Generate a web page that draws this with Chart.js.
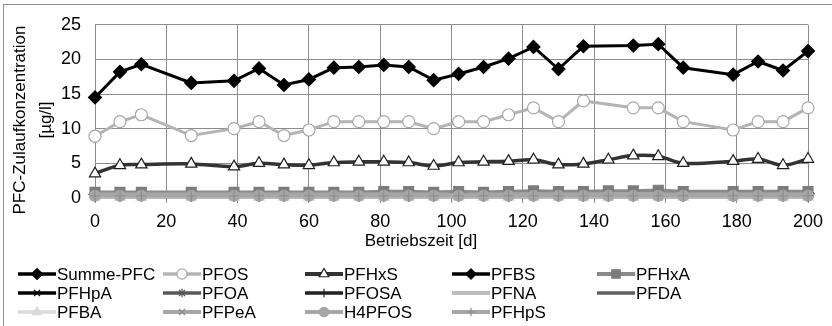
<!DOCTYPE html>
<html>
<head>
<meta charset="utf-8">
<script src="https://cdn.jsdelivr.net/npm/chart.js@4.4.1/dist/chart.umd.min.js"></script>
<style>
  html, body { margin: 0; padding: 0; background: #fff; }
  canvas { display: block; }
</style>
</head>
<body>
<canvas id="pfcChart" width="832" height="326"></canvas>
<script>
// Betriebszeit [d]
const days = [0, 7, 13, 27, 39, 46, 53, 60, 67, 74, 81, 88, 95, 102, 109, 116, 123, 130, 137, 144, 151, 158, 165, 179, 186, 193, 200];

// concentrations in µg/l (null = no measurement)
const summePFC = [14.5, 18.2, 19.3, 16.6, 16.9, 18.7, 16.3, 17.1, 18.8, 18.9, 19.2, 18.9, 17.0, 17.9, 18.9, 20.1, 21.8, 18.6, 21.9, null, 22.0, 22.2, 18.8, 17.8, 19.7, 18.4, 21.2];
const pfos     = [8.9, 11.0, 12.0, 9.0, 10.0, 11.0, 9.0, 9.8, 11.0, 11.0, 11.0, 11.0, 10.0, 11.0, 11.0, 12.0, 13.0, 11.0, 14.0, null, 13.0, 13.0, 11.0, 9.8, 11.0, 11.0, 13.0];
const pfhxs    = [3.5, 4.7, 4.8, 4.9, 4.5, 5.0, 4.8, 4.7, 5.1, 5.2, 5.2, 5.1, 4.6, 5.1, 5.2, 5.3, 5.5, 4.8, 4.9, 5.5, 6.1, 6.0, 5.0, 5.3, 5.6, 4.7, 5.6];
const pfbs     = [0.5, 0.5, 0.5, 0.5, 0.5, 0.5, 0.5, 0.5, 0.5, 0.6, 0.6, 0.6, 0.5, 0.5, 0.5, 0.6, 0.6, 0.6, 0.6, 0.7, 0.7, 0.7, 0.6, 0.6, 0.6, 0.6, 0.6];
const pfhxa    = [0.8, 0.8, 0.8, 0.8, 0.8, 0.8, 0.8, 0.8, 0.8, 0.8, 0.9, 0.9, 0.8, 0.9, 0.8, 0.9, 1.0, 0.9, 0.9, 1.0, 1.0, 1.1, 0.9, 0.9, 0.9, 0.9, 0.9];
const pfhpa    = [0.2, 0.2, 0.2, 0.2, 0.2, 0.2, 0.2, 0.2, 0.2, 0.2, 0.2, 0.2, 0.2, 0.2, 0.2, 0.2, 0.2, 0.2, 0.2, 0.2, 0.2, 0.2, 0.2, 0.2, 0.2, 0.2, 0.2];
const pfoa     = [0.4, 0.4, 0.4, 0.4, 0.4, 0.4, 0.4, 0.4, 0.4, 0.4, 0.4, 0.4, 0.4, 0.4, 0.4, 0.4, 0.5, 0.4, 0.4, 0.4, 0.4, 0.5, 0.4, 0.4, 0.4, 0.4, 0.4];
const pfosa    = [0.1, 0.1, 0.1, 0.1, 0.1, 0.1, 0.1, 0.1, 0.1, 0.1, 0.1, 0.1, 0.1, 0.1, 0.1, 0.1, 0.1, 0.1, 0.1, 0.1, 0.1, 0.1, 0.1, 0.1, 0.1, 0.1, 0.1];
const pfna     = [0.2, 0.2, 0.2, 0.2, 0.2, 0.2, 0.2, 0.2, 0.2, 0.2, 0.2, 0.2, 0.2, 0.2, 0.2, 0.2, 0.2, 0.2, 0.2, 0.2, 0.2, 0.2, 0.2, 0.2, 0.2, 0.2, 0.2];
const pfda     = [0.3, 0.3, 0.3, 0.3, 0.3, 0.3, 0.3, 0.3, 0.3, 0.3, 0.3, 0.3, 0.3, 0.7, 0.3, 0.3, 0.3, 0.3, 0.3, 0.3, 0.3, 0.3, 0.3, 0.3, 0.3, 0.3, 0.3];
const pfba     = [0.1, 0.1, 0.1, 0.1, 0.1, 0.1, 0.1, 0.1, 0.1, 0.1, 0.1, 0.1, 0.1, 0.1, 0.1, 0.1, 0.1, 0.1, 0.1, 0.1, 0.1, 0.1, 0.1, 0.1, 0.1, 0.1, 0.1];
const pfpea    = [0.5, 0.5, 0.5, 0.5, 0.5, 0.5, 0.5, 0.5, 0.5, 0.5, 0.5, 0.5, 0.5, 0.5, 0.5, 0.5, 0.6, 0.5, 0.5, 0.6, 0.6, 0.6, 0.5, 0.5, 0.5, 0.5, 0.5];
const h4pfos   = [0.3, 0.3, 0.3, 0.3, 0.3, 0.3, 0.3, 0.3, 0.3, 0.3, 0.3, 0.3, 0.3, 0.3, 0.3, 0.3, 0.3, 0.3, 0.3, 0.3, 0.3, 0.3, 0.3, 0.3, 0.3, 0.3, 0.3];
const pfhps    = [0.3, 0.3, 0.3, 0.3, 0.3, 0.3, 0.3, 0.3, 0.3, 0.3, 0.3, 0.3, 0.3, 0.3, 0.3, 0.3, 0.3, 0.3, 0.3, 0.3, 0.3, 0.3, 0.3, 0.3, 0.3, 0.3, 0.3];

const seriesNames = ['Summe-PFC', 'PFOS', 'PFHxS', 'PFBS', 'PFHxA', 'PFHpA', 'PFOA', 'PFOSA', 'PFNA', 'PFDA', 'PFBA', 'PFPeA', 'H4PFOS', 'PFHpS'];
const seriesValues = [summePFC, pfos, pfhxs, pfbs, pfhxa, pfhpa, pfoa, pfosa, pfna, pfda, pfba, pfpea, h4pfos, pfhps];

const xTicks = [0, 20, 40, 60, 80, 100, 120, 140, 160, 180, 200];
const yTicks = [0, 5, 10, 15, 20, 25];

const xTitle = 'Betriebszeit [d]';
const yTitle = ['PFC-Zulaufkonzentration', '[µg/l]'];

// look of each series, same order as seriesNames
const seriesStyles = [
  { color: '#000000', width: 3,   point: 'rectRot',  radius: 6.5, fill: '#000000', edge: '#000000' },
  { color: '#b4b4b4', width: 3,   point: 'circle',   radius: 6,   fill: '#ffffff', edge: '#a8a8a8' },
  { color: '#333333', width: 3.5, point: 'triangle', radius: 6.5, fill: '#ffffff', edge: '#1e1e1e', tension: 0.35 },
  { color: '#000000', width: 3,   point: 'rectRot',  radius: 6,   fill: '#000000', edge: '#000000' },
  { color: '#8a8a8a', width: 3.5, point: 'rect',     radius: 7,   fill: '#7c7c7c', edge: '#7c7c7c' },
  { color: '#000000', width: 3,   point: 'crossRot', radius: 5,   fill: '#000000', edge: '#000000' },
  { color: '#595959', width: 3,   point: 'star',     radius: 5,   fill: '#595959', edge: '#595959' },
  { color: '#202020', width: 3,   point: 'cross',    radius: 5,   fill: '#202020', edge: '#202020' },
  { color: '#bdbdbd', width: 3.5, point: false,      radius: 0 },
  { color: '#5e5e5e', width: 3,   point: false,      radius: 0 },
  { color: '#d9d9d9', width: 3,   point: 'triangle', radius: 6,   fill: '#d9d9d9', edge: '#d9d9d9' },
  { color: '#a6a6a6', width: 3.5, point: 'crossRot', radius: 5,   fill: '#a6a6a6', edge: '#8c8c8c' },
  { color: '#a6a6a6', width: 3.5, point: 'circle',   radius: 5.5, fill: '#a6a6a6', edge: '#a6a6a6' },
  { color: '#a6a6a6', width: 3.5, point: 'cross',    radius: 5,   fill: '#a6a6a6', edge: '#8c8c8c' }
];

const FONT = '"Liberation Sans", Arial, sans-serif';
const GRID = '#8c8c8c';

const datasets = seriesNames.map((name, i) => {
  const s = seriesStyles[i];
  return {
    label: name,
    data: days.map((d, k) => ({ x: d, y: seriesValues[i][k] })),
    borderColor: s.color,
    backgroundColor: s.color,
    borderWidth: s.width,
    pointStyle: s.point,
    pointRadius: s.radius,
    pointHoverRadius: s.radius,
    pointBackgroundColor: s.fill,
    pointBorderColor: s.edge,
    pointBorderWidth: 1.2,
    tension: s.tension || 0,
    spanGaps: true,
    fill: false,
    clip: 12,
    order: seriesNames.length - i   // later series painted on top
  };
});

// outer frame of the chart object
const framePlugin = {
  id: 'frame',
  beforeDraw(chart) {
    const ctx = chart.ctx;
    ctx.save();
    ctx.fillStyle = '#ffffff';
    ctx.fillRect(0, 0, chart.width, chart.height);
    ctx.strokeStyle = '#8c8c8c';
    ctx.lineWidth = 1;
    ctx.strokeRect(3.5, 4.5, chart.width + 10, chart.height + 10);
    ctx.restore();
  }
};

// axis titles placed like the original (x title centred under the whole chart)
const titlePlugin = {
  id: 'axisTitles',
  afterDraw(chart) {
    const ctx = chart.ctx;
    ctx.save();
    ctx.fillStyle = '#000';
    ctx.font = '17px ' + FONT;
    ctx.textAlign = 'center';
    ctx.textBaseline = 'middle';
    ctx.fillText(xTitle, 421, 241);

    ctx.translate(0, 120);
    ctx.rotate(-Math.PI / 2);
    ctx.font = '17px ' + FONT;
    ctx.fillText(yTitle[0], 0, 20);
    ctx.fillText(yTitle[1], 0, 46);
    ctx.restore();
  }
};

// five-column legend under the plot
const legendPlugin = {
  id: 'gridLegend',
  afterDraw(chart) {
    const ctx = chart.ctx;
    const colX = [18, 163, 305, 452, 597];
    const rowY = [274, 293, 312];
    const helpers = Chart.helpers;
    chart.data.datasets.forEach((ds, i) => {
      const x = colX[i % 5];
      const y = rowY[Math.floor(i / 5)];
      ctx.save();
      ctx.strokeStyle = ds.borderColor;
      ctx.lineWidth = ds.borderWidth + 0.5;
      ctx.beginPath();
      ctx.moveTo(x, y);
      ctx.lineTo(x + 38, y);
      ctx.stroke();
      if (ds.pointStyle && helpers && helpers.drawPoint) {
        ctx.fillStyle = ds.pointBackgroundColor;
        ctx.strokeStyle = ds.pointBorderColor;
        ctx.lineWidth = ds.pointBorderWidth;
        helpers.drawPoint(ctx, {
          pointStyle: ds.pointStyle,
          radius: ds.pointRadius * 0.85,
          borderWidth: ds.pointBorderWidth,
          rotation: 0
        }, x + 19, y);
      }
      ctx.fillStyle = '#000';
      ctx.font = '17px ' + FONT;
      ctx.textAlign = 'left';
      ctx.textBaseline = 'middle';
      ctx.fillText(ds.label, x + 39, y + 1);
      ctx.restore();
    });
  }
};

Chart.defaults.font.family = FONT;
Chart.defaults.color = '#000';

new Chart(document.getElementById('pfcChart'), {
  type: 'line',
  data: { datasets: datasets },
  options: {
    responsive: false,
    animation: false,
    devicePixelRatio: 1,
    layout: { padding: { top: 23, right: 24, bottom: 0, left: 0 } },
    plugins: {
      legend: { display: false },
      tooltip: { enabled: false }
    },
    scales: {
      x: {
        type: 'linear',
        min: 0,
        max: 200,
        afterBuildTicks: scale => { scale.ticks = xTicks.map(v => ({ value: v })); },
        afterFit: scale => { scale.height = 123; },
        grid: { color: GRID, lineWidth: 1, drawTicks: false },
        border: { display: false },
        ticks: { font: { size: 18 }, padding: 8, maxRotation: 0, autoSkip: false }
      },
      y: {
        min: -0.75,
        max: 25,
        afterBuildTicks: scale => { scale.ticks = yTicks.map(v => ({ value: v })); },
        afterFit: scale => { scale.width = 95; },
        grid: { color: GRID, lineWidth: 1, drawTicks: false },
        border: { display: false },
        ticks: { font: { size: 18 }, padding: 14 }
      }
    }
  },
  plugins: [framePlugin, titlePlugin, legendPlugin]
});
</script>
</body>
</html>
